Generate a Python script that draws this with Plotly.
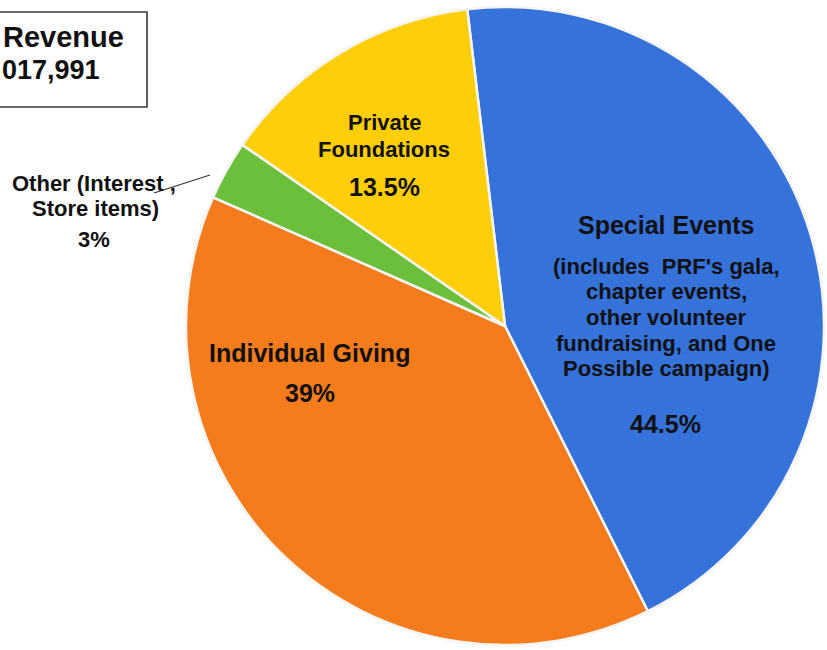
import plotly.graph_objects as go

W, H = 827, 650

# ---- data ----
categories = ["Special Events", "Individual Giving", "Other (Interest , Store items)", "Private Foundations"]
shares = [44.5, 39, 3, 13.5]
share_labels = ["44.5%", "39%", "3%", "13.5%"]
colors = ["#3572DA", "#F47C1C", "#6CBF3B", "#FECE08"]
title_lines = ["Revenue", "017,991"]


def px(x):
    return x / W


def py(y):
    return 1 - y / H


fig = go.Figure()
fig.add_trace(go.Pie(
    values=shares,
    labels=categories,
    sort=False,
    direction="clockwise",
    rotation=-6.8,
    marker=dict(colors=colors, line=dict(color="#F4F4F4", width=2.5)),
    textinfo="none",
    hoverinfo="label+percent",
    showlegend=False,
    domain=dict(x=[px(186), px(824)], y=[py(645), py(7)]),
))

FONT = "Liberation Sans, Arial, sans-serif"
annos = []


def add(text, x, y, size, xanchor="center"):
    annos.append(dict(
        text="<b>%s</b>" % text, x=px(x), y=py(y), xref="paper", yref="paper",
        xanchor=xanchor, yanchor="middle", showarrow=False,
        font=dict(family=FONT, size=size, color="#111111"),
    ))


# Special Events
add(categories[0], 666, 225, 25)
sub = ["(includes&nbsp;&nbsp;PRF's gala,", "chapter events,", "other volunteer",
       "fundraising, and One", "Possible campaign)"]
for i, s in enumerate(sub):
    add(s, 666, 266 + i * 25.7, 22)
add(share_labels[0], 665, 424, 25)

# Individual Giving
add(categories[1], 309, 353, 25)
add(share_labels[1], 310, 393, 25)

# Private Foundations
add("Private", 384, 123, 22)
add("Foundations", 384, 149, 22)
add(share_labels[3], 384, 187, 25)

# Other
add("Other (Interest ,", 94, 184, 22)
add("Store items)", 95, 208, 22)
add(share_labels[2], 94, 239, 22)

# title box text
add(title_lines[0], 1, 37, 29, xanchor="left")
add(title_lines[1], 0, 70, 27, xanchor="left")

fig.update_layout(
    width=W, height=H,
    margin=dict(l=0, r=0, t=0, b=0),
    paper_bgcolor="white", plot_bgcolor="white",
    annotations=annos,
    shapes=[
        dict(type="rect", xref="paper", yref="paper",
             x0=px(-20), x1=px(147), y0=py(107), y1=py(12),
             line=dict(color="#3A3A3A", width=1.6), fillcolor="rgba(0,0,0,0)", layer="above"),
        dict(type="line", xref="paper", yref="paper",
             x0=px(154), y0=py(193), x1=px(210), y1=py(175),
             line=dict(color="#333333", width=1.2)),
    ],
)

fig.write_html("out.html", config={"displayModeBar": False},
               post_script="document.body.style.margin='0';document.body.style.padding='0';")
